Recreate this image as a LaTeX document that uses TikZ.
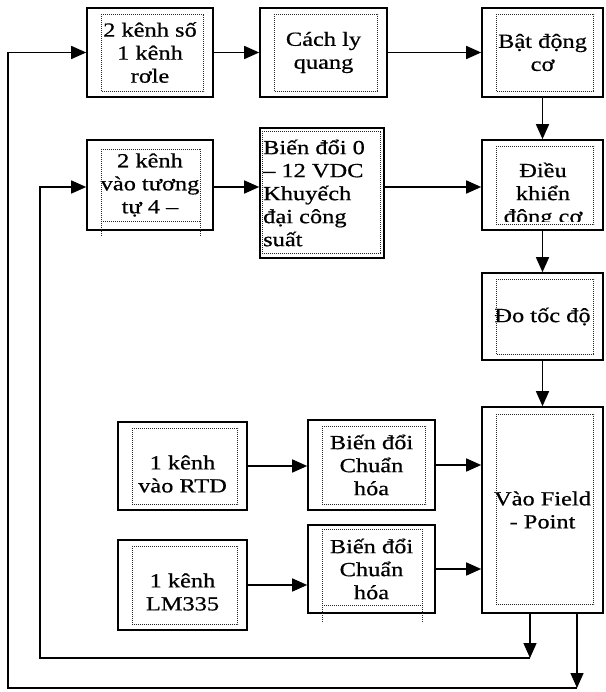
\documentclass[tikz,border=0pt]{standalone}
\usepackage{fontspec}
\setmainfont{Liberation Serif}[FakeStretch=1.22,FakeBold=0.6]
\usetikzlibrary{arrows.meta,calc}
\begin{document}
\begin{tikzpicture}[x=1pt,y=-1pt,
  box/.style={draw,line width=1.6pt,inner sep=0pt,align=center,font=\fontsize{20}{23}\selectfont},
  txt/.style={inner sep=0pt,align=center,font=\fontsize{20}{23}\selectfont},
  frm/.style={draw=black!85,line width=0.9pt,dash pattern=on 1pt off 1pt},
  arr/.style={line width=1.5pt,-{Triangle[length=15pt,width=13pt]}}]
\useasboundingbox[fill=white] (0,0) rectangle (605,692);
% boxes
\node[box,minimum width=126,minimum height=89] (A) at (150,52.5) {2 kênh số\\1 kênh\\rơle};
\node[box,minimum width=127,minimum height=89] (B) at (323.5,52.5) {Cách ly\\quang};
\node[box,minimum width=121,minimum height=89] (C) at (542.5,52.5) {Bật động\\cơ};
\node[box,minimum width=126,minimum height=90] (D) at (150,185) {2 kênh\\vào tương\\tự 4 –};
\node[box,minimum width=124,minimum height=130] (E) at (322,193) {};
\node[txt,anchor=west,align=left] (Et) at (263,193) {Biến đổi 0\\– 12 VDC\\Khuyếch\\đại công\\suất};
\node[box,minimum width=121,minimum height=90] (F) at (542.5,185) {};
\begin{scope}
\clip (497,147) rectangle (595,222);
\node[txt] (Ft) at (543,195) {Điều\\khiển\\động cơ};
\end{scope}
\node[box,minimum width=121,minimum height=87] (G) at (542.5,316.5) {Đo tốc độ};
\node[box,minimum width=121,minimum height=206] (H) at (542.5,510) {Vào Field\\- Point};
\node[box,minimum width=129,minimum height=88] (I) at (182.5,466) {};
\node[txt] (It) at (182.5,474) {1 kênh\\vào RTD};
\node[box,minimum width=129,minimum height=90] (J) at (182.5,585) {};
\node[txt] (Jt) at (182.5,592) {1 kênh\\LM335};
\node[box,minimum width=127,minimum height=90] (K) at (371.5,465) {Biến đổi\\Chuẩn\\hóa};
\node[box,minimum width=127,minimum height=88] (L) at (371.5,569) {Biến đổi\\Chuẩn\\hóa};
% inner dotted frames
\foreach \n in {A,B,C,F,G,I,J,K}
  \draw[frm] ([shift={(15,7)}]\n.north west) rectangle ([shift={(-10,-6)}]\n.south east);
\draw[frm] ([shift={(3,4)}]E.north west) rectangle ([shift={(-4,-5)}]E.south east);
\draw[frm] ([shift={(15,8)}]H.north west) rectangle ([shift={(-10,-9)}]H.south east);
\draw[frm] ([shift={(15,10)}]D.north west) -- ([shift={(15,6)}]D.south west)
  ([shift={(-13,10)}]D.north east) -- ([shift={(-13,6)}]D.south east)
  ([shift={(15,10)}]D.north west) -- ([shift={(-13,10)}]D.north east)
  ([shift={(15,-9)}]D.south west) -- ([shift={(-13,-9)}]D.south east);
\draw[frm] ([shift={(15,5)}]L.north west) -- ([shift={(15,9)}]L.south west)
  ([shift={(-13,5)}]L.north east) -- ([shift={(-13,9)}]L.south east)
  ([shift={(15,5)}]L.north west) -- ([shift={(-13,5)}]L.north east)
  ([shift={(15,-8)}]L.south west) -- ([shift={(-13,-8)}]L.south east);
% coordinates for feedback lines
\coordinate (o1) at (530,658);
\coordinate (o2) at (577,688);
\coordinate (c1) at (40,658);
\coordinate (c2) at (8,688);
% arrows
\draw[arr] (A.east) -- (A.east -| B.west);
\draw[arr] (B.east) -- (B.east -| C.west);
\draw[arr] (C.south) -- (F.north);
\draw[arr] ([yshift=-2pt]D.east) -- ([yshift=-2pt]D.east -| E.west);
\draw[arr] ([yshift=-2pt]E.east |- F.west) -- ([yshift=-2pt]F.west);
\draw[arr] (F.south) -- (G.north);
\draw[arr] (G.south) -- (H.north);
\draw[arr] (I.east) -- (I.east -| K.west);
\draw[arr] (J.east) -- (J.east -| L.west);
\draw[arr] (K.east) -- (K.east -| H.west);
\draw[arr] (L.east) -- (L.east -| H.west);
\draw[arr] (H.south -| o1) -- (o1);
\draw[arr] (H.south -| o2) -- (o2);
\draw[arr] (o1) -- (c1) |- ([yshift=-2pt]D.west);
\draw[arr] (o2) -- (c2) |- (A.west);
\end{tikzpicture}
\end{document}
